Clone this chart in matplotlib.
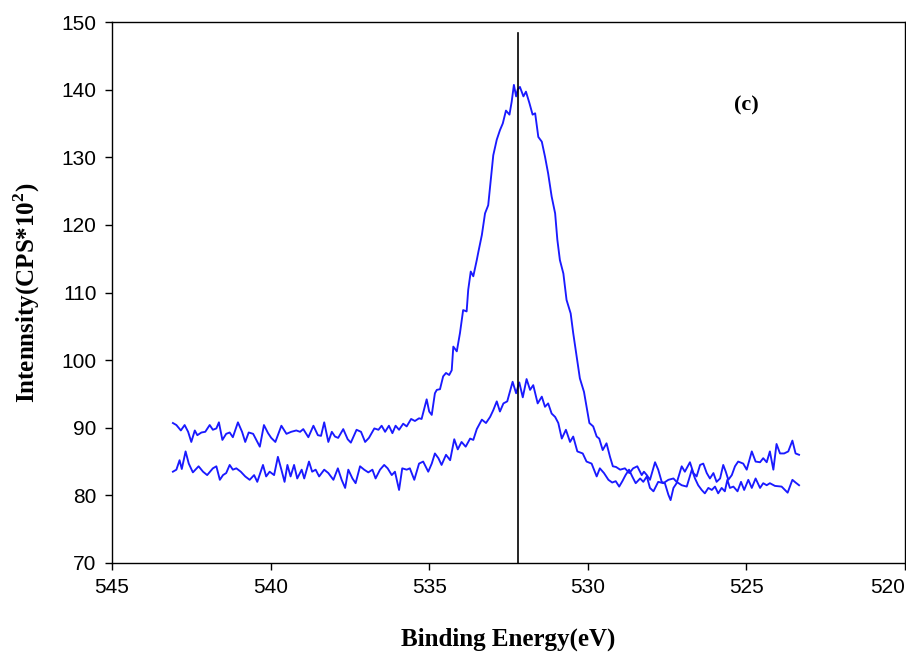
import matplotlib
matplotlib.use("Agg")
import matplotlib.pyplot as plt

# O 1s region
be_main = [543.08, 542.97, 542.83, 542.71, 542.60, 542.50, 542.39, 542.31, 542.18, 542.06,
           541.92, 541.82, 541.71, 541.63, 541.52, 541.40, 541.29, 541.19, 541.03, 540.90,
           540.80, 540.69, 540.55, 540.45, 540.34, 540.21, 540.08, 539.98, 539.85, 539.66,
           539.50, 539.35, 539.19, 539.07, 538.97, 538.81, 538.65, 538.51, 538.41, 538.31,
           538.18, 538.07, 537.97, 537.87, 537.71, 537.57, 537.47, 537.29, 537.15, 537.02,
           536.90, 536.73, 536.60, 536.50, 536.39, 536.27, 536.16, 536.06, 535.95, 535.82,
           535.71, 535.57, 535.45, 535.32, 535.24, 535.15, 535.08, 535.00, 534.92, 534.82,
           534.76, 534.66, 534.56, 534.47, 534.37, 534.29, 534.24, 534.13, 534.03, 533.93,
           533.82, 533.77, 533.69, 533.61, 533.50, 533.45, 533.34, 533.24, 533.14, 533.06,
           532.98, 532.87, 532.77, 532.68, 532.58, 532.47, 532.40, 532.33, 532.26, 532.21,
           532.14, 532.03, 531.95, 531.84, 531.74, 531.66, 531.56, 531.45, 531.35, 531.25,
           531.14, 531.03, 530.96, 530.88, 530.77, 530.67, 530.54, 530.46, 530.35, 530.25,
           530.12, 530.04, 529.95, 529.83, 529.72, 529.64, 529.53, 529.41, 529.30, 529.21,
           529.11, 528.98, 528.83, 528.69, 528.57, 528.44, 528.30, 528.23, 528.14, 528.04,
           527.88, 527.78, 527.67, 527.57, 527.46, 527.39, 527.30, 527.20, 527.04, 526.94,
           526.78, 526.67, 526.57, 526.46, 526.36, 526.25, 526.15, 526.04, 525.94, 525.83,
           525.73, 525.65, 525.57, 525.46, 525.36, 525.26, 525.10, 524.99, 524.83, 524.71,
           524.57, 524.47, 524.36, 524.26, 524.15, 524.05, 523.94, 523.81, 523.68, 523.55,
           523.45, 523.34]
cps_main = [90.7, 90.4, 89.6, 90.4, 89.4, 87.9, 89.6, 88.9, 89.3, 89.4,
            90.4, 89.7, 89.9, 90.8, 88.2, 89.1, 89.3, 88.6, 90.8, 89.4,
            87.9, 89.3, 89.1, 88.2, 87.2, 90.4, 89.2, 88.5, 87.9, 90.3,
            89.1, 89.4, 89.6, 89.4, 89.8, 88.6, 90.3, 88.9, 88.8, 90.8,
            87.9, 89.4, 88.7, 88.5, 89.8, 88.3, 87.8, 89.7, 89.4, 87.9,
            88.5, 89.9, 89.7, 90.3, 89.4, 90.3, 89.2, 90.3, 89.7, 90.6,
            90.2, 91.3, 91.0, 91.4, 91.3, 92.9, 94.2, 92.4, 91.9, 95.1,
            95.6, 95.7, 97.6, 98.1, 97.8, 98.5, 102.0, 101.3, 104.0, 107.4,
            107.2, 110.4, 113.1, 112.4, 114.8, 116.0, 118.5, 121.7, 122.9, 126.6,
            130.3, 132.6, 134.0, 135.0, 136.9, 136.3, 138.2, 140.7, 139.0, 140.0,
            140.4, 139.0, 139.7, 138.0, 136.3, 136.5, 133.0, 132.3, 130.1, 127.6,
            124.2, 121.7, 117.8, 114.8, 112.8, 108.9, 106.9, 104.0, 100.5, 97.3,
            95.3, 93.1, 90.7, 90.2, 88.7, 88.4, 86.7, 87.7, 85.7, 84.3,
            84.2, 83.8, 84.0, 83.3, 84.0, 84.3, 83.0, 83.5, 83.0, 82.3,
            84.9, 83.8, 82.0, 81.8, 80.1, 79.3, 81.1, 81.8, 84.3, 83.5,
            84.9, 83.3, 82.8, 84.5, 84.7, 83.3, 82.5, 83.3, 82.0, 82.5,
            84.5, 83.5, 82.3, 83.0, 84.3, 85.0, 84.7, 83.8, 86.5, 85.0,
            84.9, 85.5, 84.9, 86.5, 83.8, 87.6, 86.2, 86.2, 86.5, 88.1,
            86.2, 86.0]

be_low = [543.08, 542.97, 542.87, 542.80, 542.68, 542.58, 542.45, 542.27, 542.13, 542.00,
          541.82, 541.71, 541.60, 541.50, 541.40, 541.29, 541.19, 541.08, 540.94, 540.80,
          540.66, 540.52, 540.42, 540.24, 540.14, 540.03, 539.89, 539.77, 539.66, 539.56,
          539.47, 539.37, 539.26, 539.16, 539.02, 538.94, 538.79, 538.69, 538.58, 538.47,
          538.31, 538.18, 538.02, 537.88, 537.76, 537.65, 537.55, 537.42, 537.32, 537.18,
          537.05, 536.92, 536.79, 536.69, 536.55, 536.42, 536.31, 536.18, 536.08, 535.95,
          535.85, 535.71, 535.61, 535.47, 535.32, 535.19, 535.03, 534.92, 534.82, 534.71,
          534.61, 534.47, 534.34, 534.21, 534.10, 533.98, 533.85, 533.71, 533.61, 533.50,
          533.34, 533.21, 533.08, 532.98, 532.87, 532.77, 532.66, 532.54, 532.37, 532.26,
          532.16, 532.05, 531.93, 531.82, 531.72, 531.58, 531.45, 531.35, 531.25, 531.14,
          531.03, 530.93, 530.82, 530.69, 530.56, 530.46, 530.33, 530.16, 530.04, 529.88,
          529.72, 529.62, 529.49, 529.35, 529.23, 529.12, 529.01, 528.91, 528.81, 528.70,
          528.60, 528.49, 528.35, 528.25, 528.14, 528.04, 527.93, 527.78, 527.62, 527.46,
          527.30, 527.20, 527.04, 526.88, 526.72, 526.62, 526.52, 526.41, 526.31, 526.20,
          526.09, 525.99, 525.89, 525.78, 525.68, 525.60, 525.52, 525.41, 525.28, 525.17,
          525.07, 524.94, 524.83, 524.71, 524.57, 524.47, 524.36, 524.26, 524.10, 523.89,
          523.70, 523.55, 523.45, 523.34]
cps_low = [83.5, 83.8, 85.2, 83.9, 86.5, 84.7, 83.4, 84.3, 83.5, 83.0,
           84.0, 84.3, 82.3, 83.0, 83.3, 84.5, 83.8, 84.0, 83.5, 82.8,
           82.3, 83.0, 82.0, 84.5, 82.8, 83.5, 83.0, 85.7, 83.8, 82.0,
           84.5, 82.8, 84.5, 82.5, 83.8, 82.5, 85.0, 83.5, 83.8, 82.8,
           83.8, 83.3, 82.3, 84.0, 82.3, 81.1, 83.8, 82.5, 81.8, 84.3,
           83.8, 83.4, 83.8, 82.5, 83.8, 84.5, 84.0, 83.0, 83.5, 80.8,
           84.0, 83.8, 84.0, 82.3, 84.7, 85.0, 83.5, 84.7, 86.2, 85.5,
           84.5, 86.0, 85.2, 88.3, 86.8, 87.9, 87.2, 88.4, 88.2, 89.8,
           91.2, 90.7, 91.6, 92.6, 93.9, 92.4, 93.6, 93.9, 96.8, 95.1,
           96.7, 94.5, 97.2, 95.6, 96.3, 93.6, 94.6, 93.1, 93.6, 92.1,
           91.6, 90.7, 88.4, 89.7, 87.9, 88.7, 86.5, 86.2, 85.0, 84.7,
           82.8, 84.0, 83.3, 82.3, 81.9, 82.1, 81.3, 82.1, 83.0, 83.8,
           82.8, 81.8, 82.5, 82.0, 82.8, 81.1, 80.6, 82.0, 81.8, 82.3,
           82.5, 82.0, 81.5, 81.3, 83.8, 82.5, 81.5, 80.8, 80.3, 81.1,
           80.8, 81.3, 80.3, 81.1, 80.6, 82.3, 81.1, 81.3, 80.6, 82.0,
           80.8, 82.3, 81.1, 82.5, 81.1, 81.8, 81.5, 81.8, 81.4, 81.3,
           80.4, 82.3, 81.9, 81.5]

peak_be = 532.2
x_ticks = [545, 540, 535, 530, 525, 520]
y_ticks = [70, 80, 90, 100, 110, 120, 130, 140, 150]

plt.rcParams['font.family'] = ['Liberation Sans', 'DejaVu Sans']
plt.rcParams['mathtext.fontset'] = 'custom'
plt.rcParams['mathtext.rm'] = 'Liberation Serif:bold'
plt.rcParams['mathtext.bf'] = 'Liberation Serif:bold'

fig = plt.figure(figsize=(9.06, 6.52), dpi=100)
ax = fig.add_axes([112 / 906, 89 / 652, 793 / 906, 541 / 652])

ax.plot(be_main, cps_main, color='#1a1aff', lw=1.35, solid_joinstyle='round')
ax.plot(be_low, cps_low, color='#1a1aff', lw=1.35, solid_joinstyle='round')
ax.plot([peak_be, peak_be], [70, 148.4], color='black', lw=1.2)

ax.set_xlim(545, 520)
ax.set_ylim(70, 150)
ax.set_xticks(x_ticks)
ax.set_xticklabels([str(t) for t in x_ticks])
ax.set_yticks(y_ticks)
ax.tick_params(direction='out', length=5, width=1, labelsize=15, pad=6)
# last label sits at the right edge of the figure, keep it inside
ax.get_xticklabels()[-1].set_horizontalalignment('right')
for s in ax.spines.values():
    s.set_linewidth(1)
    s.set_clip_on(False)

ax.set_xlabel('Binding Energy(eV)', family='Liberation Serif', fontweight='bold',
              fontsize=18, labelpad=22)
ax.set_ylabel(r'Intennsity(CPS*10$^{\mathbf{2}}$)', family='Liberation Serif',
              fontweight='bold', fontsize=18, labelpad=14)
ax.text(525.0, 137.7, '(c)', family='Liberation Serif', fontweight='bold',
        fontsize=16, ha='center', va='center')

fig.savefig('out.png', dpi=100)
